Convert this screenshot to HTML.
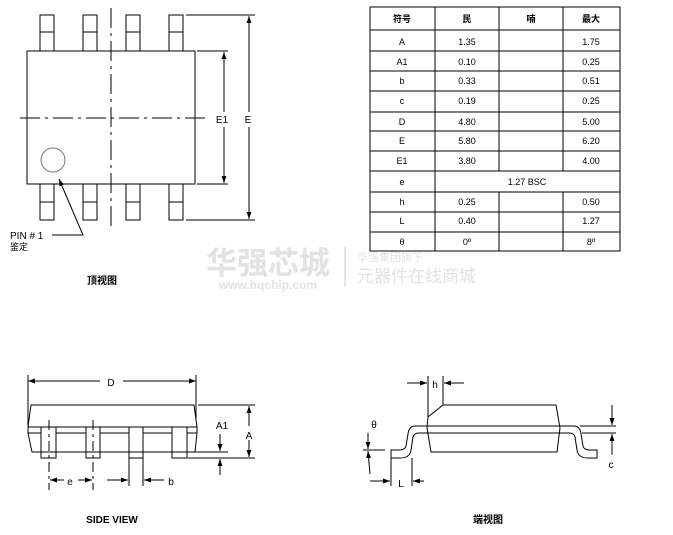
<!DOCTYPE html>
<html><head><meta charset="utf-8"><style>
body{margin:0;background:#fff}
svg{display:block}
text{font-family:"Liberation Sans","Noto Sans CJK SC",sans-serif;fill:#000}
</style></head><body>
<svg width="673" height="535" viewBox="0 0 673 535" xmlns="http://www.w3.org/2000/svg">
<defs>
<marker id="ar" viewBox="0 0 10 10" refX="10" refY="5" markerWidth="7" markerHeight="7" orient="auto-start-reverse"><path d="M0,1.5L10,5L0,8.5z" fill="#000"/></marker>
</defs>
<g fill="none" stroke="#000" stroke-width="1">
<!-- top view -->
<rect x="40" y="15" width="14" height="36" fill="#fff"/><line x1="40" y1="32" x2="54" y2="32"/>
<rect x="83" y="15" width="14" height="36" fill="#fff"/><line x1="83" y1="32" x2="97" y2="32"/>
<rect x="126" y="15" width="14" height="36" fill="#fff"/><line x1="126" y1="32" x2="140" y2="32"/>
<rect x="169" y="15" width="14" height="36" fill="#fff"/><line x1="169" y1="32" x2="183" y2="32"/>
<rect x="40" y="184" width="14" height="36" fill="#fff"/><line x1="40" y1="202" x2="54" y2="202"/>
<rect x="83" y="184" width="14" height="36" fill="#fff"/><line x1="83" y1="202" x2="97" y2="202"/>
<rect x="126" y="184" width="14" height="36" fill="#fff"/><line x1="126" y1="202" x2="140" y2="202"/>
<rect x="169" y="184" width="14" height="36" fill="#fff"/><line x1="169" y1="202" x2="183" y2="202"/>
<rect x="27" y="51" width="168" height="133" fill="#fff"/>
<line x1="111" y1="8" x2="111" y2="227" stroke-dasharray="20,5,3,5"/>
<line x1="20" y1="118" x2="205" y2="118" stroke-dasharray="20,5,3,5"/>
<circle cx="53" cy="160" r="12" stroke="#777"/>
<line x1="197" y1="51" x2="228" y2="51"/><line x1="197" y1="184" x2="228" y2="184"/>
<line x1="224" y1="52" x2="224" y2="112" marker-start="url(#ar)"/><line x1="224" y1="127" x2="224" y2="183" marker-end="url(#ar)"/>
<line x1="186" y1="15" x2="255" y2="15"/><line x1="186" y1="220" x2="255" y2="220"/>
<line x1="249" y1="16" x2="249" y2="112" marker-start="url(#ar)"/><line x1="249" y1="127" x2="249" y2="219" marker-end="url(#ar)"/>
<polyline points="52,235 83,235 59,179" marker-end="url(#ar)"/>
<!-- table -->
<rect x="370" y="7" width="250" height="244"/>
<line x1="435" y1="7" x2="435" y2="251"/>
<line x1="499" y1="7" x2="499" y2="171"/><line x1="499" y1="192" x2="499" y2="251"/>
<line x1="563" y1="7" x2="563" y2="171"/><line x1="563" y1="192" x2="563" y2="251"/>
<path d="M370 30H620M370 51H620M370 71H620M370 91H620M370 112H620M370 131H620M370 151H620M370 171H620M370 192H620M370 212H620M370 232H620"/>
<!-- side view -->
<line x1="28" y1="381" x2="100" y2="381" marker-start="url(#ar)"/><line x1="123" y1="381" x2="196" y2="381" marker-end="url(#ar)"/>
<line x1="28" y1="375" x2="28" y2="427"/><line x1="196" y1="375" x2="196" y2="427"/>
<polygon points="31,405 194,405 197,427 197,433 195,452 32,452 28,433 28,427" fill="#fff"/>
<line x1="28" y1="427" x2="197" y2="427"/><line x1="28" y1="433" x2="197" y2="433"/>
<rect x="41" y="427" width="15" height="31" fill="#fff"/><line x1="41" y1="452" x2="56" y2="452"/>
<rect x="86" y="427" width="14" height="31" fill="#fff"/><line x1="86" y1="452" x2="100" y2="452"/>
<rect x="129" y="427" width="14" height="31" fill="#fff"/><line x1="129" y1="452" x2="143" y2="452"/>
<rect x="172" y="427" width="15" height="31" fill="#fff"/><line x1="172" y1="452" x2="187" y2="452"/>
<line x1="49" y1="420" x2="49" y2="490" stroke-dasharray="10,4,3,4"/>
<line x1="93" y1="420" x2="93" y2="490" stroke-dasharray="10,4,3,4"/>
<line x1="50" y1="480" x2="64" y2="480" marker-start="url(#ar)"/><line x1="78" y1="480" x2="92" y2="480" marker-end="url(#ar)"/>
<line x1="129" y1="458" x2="129" y2="486"/><line x1="143" y1="458" x2="143" y2="486"/>
<line x1="107" y1="480" x2="128" y2="480" marker-end="url(#ar)"/><line x1="164" y1="480" x2="144" y2="480" marker-end="url(#ar)"/>
<line x1="198" y1="405" x2="255" y2="405"/><line x1="188" y1="458" x2="255" y2="458"/><line x1="190" y1="452" x2="228" y2="452"/>
<line x1="249" y1="406" x2="249" y2="426" marker-start="url(#ar)"/><line x1="249" y1="440" x2="249" y2="457" marker-end="url(#ar)"/>
<line x1="220" y1="434" x2="220" y2="451" marker-end="url(#ar)"/><line x1="220" y1="475" x2="220" y2="459" marker-end="url(#ar)"/>
<!-- end view -->
<path d="M427,426 H415 Q409,426 408,434 L406,446 Q405,450 399,450 H391 V458 H400 Q410,458 411,450 L413,437 Q414,433 419,433 H427"/>
<path d="M560,426 H574 Q580,426 581,434 L583,446 Q584,450 590,450 H597 V458 H588 Q578,458 577,450 L575,437 Q574,433 569,433 H560"/>
<polygon points="443,405 556,405 560,428 557,452 431,452 427,428 428,417" fill="#fff"/>
<line x1="416" y1="426" x2="560" y2="426"/><line x1="420" y1="433" x2="560" y2="433"/>
<line x1="428" y1="376" x2="428" y2="417"/><line x1="443" y1="376" x2="443" y2="405"/>
<line x1="407" y1="383" x2="427" y2="383" marker-end="url(#ar)"/><line x1="464" y1="383" x2="444" y2="383" marker-end="url(#ar)"/>
<line x1="363" y1="450" x2="385" y2="450"/>
<line x1="368" y1="433" x2="368" y2="449" marker-end="url(#ar)"/><line x1="370" y1="474" x2="368" y2="451" marker-end="url(#ar)"/>
<line x1="391" y1="458" x2="391" y2="486"/><line x1="412" y1="458" x2="412" y2="486"/>
<line x1="370" y1="481" x2="390" y2="481" marker-end="url(#ar)"/><line x1="424" y1="481" x2="413" y2="481" marker-end="url(#ar)"/>
<line x1="580" y1="426" x2="616" y2="426"/><line x1="582" y1="433" x2="616" y2="433"/>
<line x1="612" y1="405" x2="612" y2="425" marker-end="url(#ar)"/><line x1="612" y1="455" x2="612" y2="434" marker-end="url(#ar)"/>
<line x1="345" y1="247" x2="345" y2="287" stroke="#e6e6e6" stroke-width="2"/>
</g>
<g font-size="10" text-anchor="middle">
<text x="222" y="123">E1</text><text x="248" y="123">E</text>
<text x="111" y="386">D</text><text x="70" y="485">e</text><text x="171" y="485">b</text>
<text x="222" y="429">A1</text><text x="249" y="439">A</text>
<text x="435" y="388">h</text><text x="374" y="428">θ</text><text x="401" y="487">L</text><text x="611" y="468">c</text>
</g>
<text x="10" y="239" font-size="10">PIN  #  1</text>
<text x="10" y="250" font-size="9">鉴定</text>
<text x="102" y="284" font-size="10" font-weight="bold" text-anchor="middle">顶视图</text>
<text x="112" y="523" font-size="10" font-weight="bold" text-anchor="middle">SIDE VIEW</text>
<text x="488" y="523" font-size="10" font-weight="bold" text-anchor="middle">端视图</text>
<g font-size="9" text-anchor="middle">
<text x="402" y="22" font-weight="bold">符号</text><text x="467" y="22" font-weight="bold">民</text><text x="531" y="22" font-weight="bold">喃</text><text x="591" y="22" font-weight="bold">最大</text>
<text x="402" y="45">A</text><text x="467" y="45">1.35</text><text x="591" y="45">1.75</text>
<text x="402" y="65">A1</text><text x="467" y="65">0.10</text><text x="591" y="65">0.25</text>
<text x="402" y="84">b</text><text x="467" y="84">0.33</text><text x="591" y="84">0.51</text>
<text x="402" y="104">c</text><text x="467" y="104">0.19</text><text x="591" y="104">0.25</text>
<text x="402" y="125">D</text><text x="467" y="125">4.80</text><text x="591" y="125">5.00</text>
<text x="402" y="144">E</text><text x="467" y="144">5.80</text><text x="591" y="144">6.20</text>
<text x="402" y="164">E1</text><text x="467" y="164">3.80</text><text x="591" y="164">4.00</text>
<text x="402" y="185">e</text><text x="527" y="185">1.27 BSC</text>
<text x="402" y="205">h</text><text x="467" y="205">0.25</text><text x="591" y="205">0.50</text>
<text x="402" y="224">L</text><text x="467" y="224">0.40</text><text x="591" y="224">1.27</text>
<text x="402" y="245">θ</text><text x="467" y="245">0º</text><text x="591" y="245">8º</text>
</g>
<g>
<text x="268" y="274" font-size="31" font-weight="bold" text-anchor="middle" style="fill:#e2e2e2">华强芯城</text>
<text x="268" y="289" font-size="12" font-weight="bold" text-anchor="middle" style="fill:#e2e2e2">www.hqchip.com</text>
<text x="357" y="261" font-size="11" style="fill:#e2e2e2">华强集团旗下</text>
<text x="357" y="282" font-size="17" style="fill:#e2e2e2">元器件在线商城</text>
</g>
</svg>
</body></html>
